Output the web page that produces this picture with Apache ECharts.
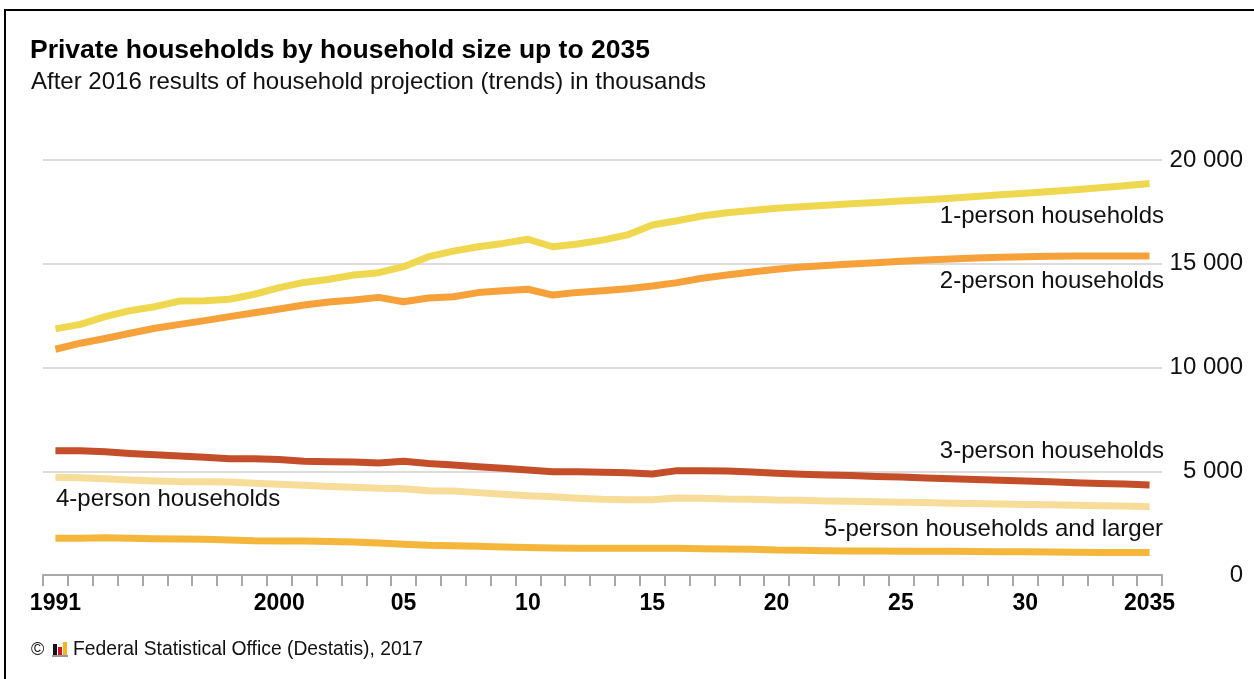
<!DOCTYPE html>
<html>
<head>
<meta charset="utf-8">
<title>Private households by household size up to 2035</title>
<script src="https://cdn.jsdelivr.net/npm/echarts@6/dist/echarts.min.js"></script>
<style>
  html, body { margin: 0; padding: 0; background: #fff; }
  #main { width: 1254px; height: 679px; }
</style>
</head>
<body>
<div id="main"></div>
<script>
// years on the x axis
var years = [];
for (var y = 1991; y <= 2035; y++) years.push(String(y));

// only these years get a label under the axis
var labelYears = ['1991', '2000', '2005', '2010', '2015', '2020', '2025', '2030', '2035'];
var labelTexts = ['1991', '2000', '05', '10', '15', '20', '25', '30', '2035'];

// households in thousands
var onePerson = [11860, 12080, 12450, 12740, 12930, 13200, 13220, 13290, 13530, 13850,
  14100, 14250, 14460, 14570, 14860, 15340, 15610, 15820, 15980, 16180,
  15820, 15950, 16140, 16390, 16870, 17070, 17300, 17460, 17570, 17670,
  17750, 17820, 17890, 17950, 18020, 18090, 18160, 18240, 18320, 18400,
  18480, 18570, 18660, 18760, 18870];
var twoPerson = [10880, 11170, 11400, 11650, 11890, 12080, 12260, 12450, 12640, 12820,
  13010, 13160, 13250, 13380, 13170, 13350, 13410, 13610, 13700, 13770,
  13490, 13620, 13700, 13800, 13930, 14090, 14300, 14460, 14600, 14730,
  14840, 14920, 14990, 15050, 15120, 15180, 15230, 15280, 15310, 15340,
  15360, 15370, 15370, 15370, 15370];
var threePerson = [5990, 5990, 5940, 5860, 5800, 5730, 5670, 5600, 5600, 5570,
  5480, 5460, 5450, 5400, 5480, 5370, 5300, 5220, 5140, 5060,
  4980, 4980, 4950, 4930, 4870, 5030, 5030, 5010, 4960, 4900,
  4850, 4820, 4790, 4750, 4720, 4680, 4640, 4600, 4570, 4530,
  4490, 4450, 4410, 4380, 4340];
var fourPerson = [4710, 4690, 4640, 4580, 4530, 4500, 4500, 4480, 4420, 4370,
  4320, 4270, 4230, 4180, 4160, 4060, 4050, 3970, 3890, 3820,
  3770, 3700, 3650, 3630, 3630, 3710, 3700, 3660, 3650, 3610,
  3600, 3570, 3550, 3530, 3510, 3490, 3460, 3440, 3420, 3400,
  3380, 3360, 3340, 3320, 3290];
var fivePerson = [1770, 1770, 1800, 1770, 1750, 1740, 1720, 1690, 1650, 1640,
  1640, 1610, 1590, 1540, 1480, 1430, 1410, 1380, 1350, 1320,
  1300, 1290, 1290, 1290, 1290, 1290, 1270, 1250, 1240, 1200,
  1190, 1170, 1160, 1160, 1150, 1150, 1140, 1130, 1120, 1120,
  1110, 1100, 1090, 1090, 1080];

var font = '"Liberation Sans", Arial, sans-serif';

function lineSeries(name, data, color) {
  return {
    name: name,
    type: 'line',
    data: data,
    symbol: 'none',
    silent: true,
    lineStyle: { width: 7, color: color, cap: 'butt', join: 'round' }
  };
}

function label(text, x, y, align) {
  return {
    type: 'text',
    x: x, y: y,
    style: {
      text: text, fill: '#111', font: '24px ' + font,
      textAlign: align, textVerticalAlign: 'middle'
    }
  };
}

var chart = echarts.init(document.getElementById('main'));
chart.setOption({
  backgroundColor: '#fff',
  animation: false,
  title: [{
    text: 'Private households by household size up to 2035',
    left: 30, top: 37, padding: 0,
    textStyle: { fontFamily: font, fontSize: 26.5, fontWeight: 'bold', color: '#000' }
  }, {
    text: 'After 2016 results of household projection (trends) in thousands',
    left: 31, top: 70, padding: 0,
    textStyle: { fontFamily: font, fontSize: 24, fontWeight: 'normal', color: '#111' }
  }],
  grid: { left: 43, right: 92, top: 160, bottom: 104 },
  xAxis: {
    type: 'category',
    data: years,
    boundaryGap: true,
    axisLine: { show: true, lineStyle: { color: '#a8a8a8', width: 2 } },
    axisTick: { show: true, interval: 0, length: 11, lineStyle: { color: '#a8a8a8', width: 2 } },
    axisLabel: {
      interval: 0,
      margin: 17,
      fontFamily: font, fontSize: 23, fontWeight: 'bold', color: '#000',
      formatter: function (v) {
        var i = labelYears.indexOf(v);
        return i < 0 ? '' : labelTexts[i];
      }
    },
    splitLine: { show: false }
  },
  yAxis: {
    type: 'value',
    position: 'right',
    min: 0, max: 20000, interval: 5000,
    axisLine: { show: false },
    axisTick: { show: false },
    axisLabel: {
      align: 'right',
      margin: 81,
      fontFamily: font, fontSize: 24, color: '#111',
      formatter: function (v) {
        return String(v).replace(/\B(?=(\d{3})+(?!\d))/g, ' ');
      }
    },
    splitLine: { lineStyle: { color: '#dcdcdc', width: 2 } }
  },
  series: [
    lineSeries('5-person households and larger', fivePerson, '#f4b73b'),
    lineSeries('4-person households', fourPerson, '#f8dc99'),
    lineSeries('3-person households', threePerson, '#c54e2a'),
    lineSeries('2-person households', twoPerson, '#f6a13a'),
    lineSeries('1-person households', onePerson, '#efd850')
  ],
  graphic: [
    {
      type: 'rect',
      shape: { x: 5, y: 10, width: 1400, height: 800 },
      style: { fill: 'none', stroke: '#000', lineWidth: 2 },
      silent: true
    },
    label('1-person households', 1164, 216, 'right'),
    label('2-person households', 1164, 281, 'right'),
    label('3-person households', 1164, 451, 'right'),
    label('4-person households', 56, 499, 'left'),
    label('5-person households and larger', 1163, 529, 'right'),
    {
      type: 'text', x: 31, y: 650,
      style: { text: '©', fill: '#111', font: '18px ' + font, textAlign: 'left', textVerticalAlign: 'middle' }
    },
    { type: 'rect', shape: { x: 53, y: 644, width: 4, height: 11 }, style: { fill: '#111' } },
    { type: 'rect', shape: { x: 58, y: 647, width: 4, height: 8 }, style: { fill: '#d0142c' } },
    { type: 'rect', shape: { x: 63, y: 642, width: 4, height: 13 }, style: { fill: '#f5b51e' } },
    { type: 'rect', shape: { x: 52, y: 655, width: 16, height: 2 }, style: { fill: '#999' } },
    {
      type: 'text', x: 73, y: 650,
      style: { text: 'Federal Statistical Office (Destatis), 2017', fill: '#111', font: '19.3px ' + font, textAlign: 'left', textVerticalAlign: 'middle' }
    }
  ]
});
</script>
</body>
</html>
